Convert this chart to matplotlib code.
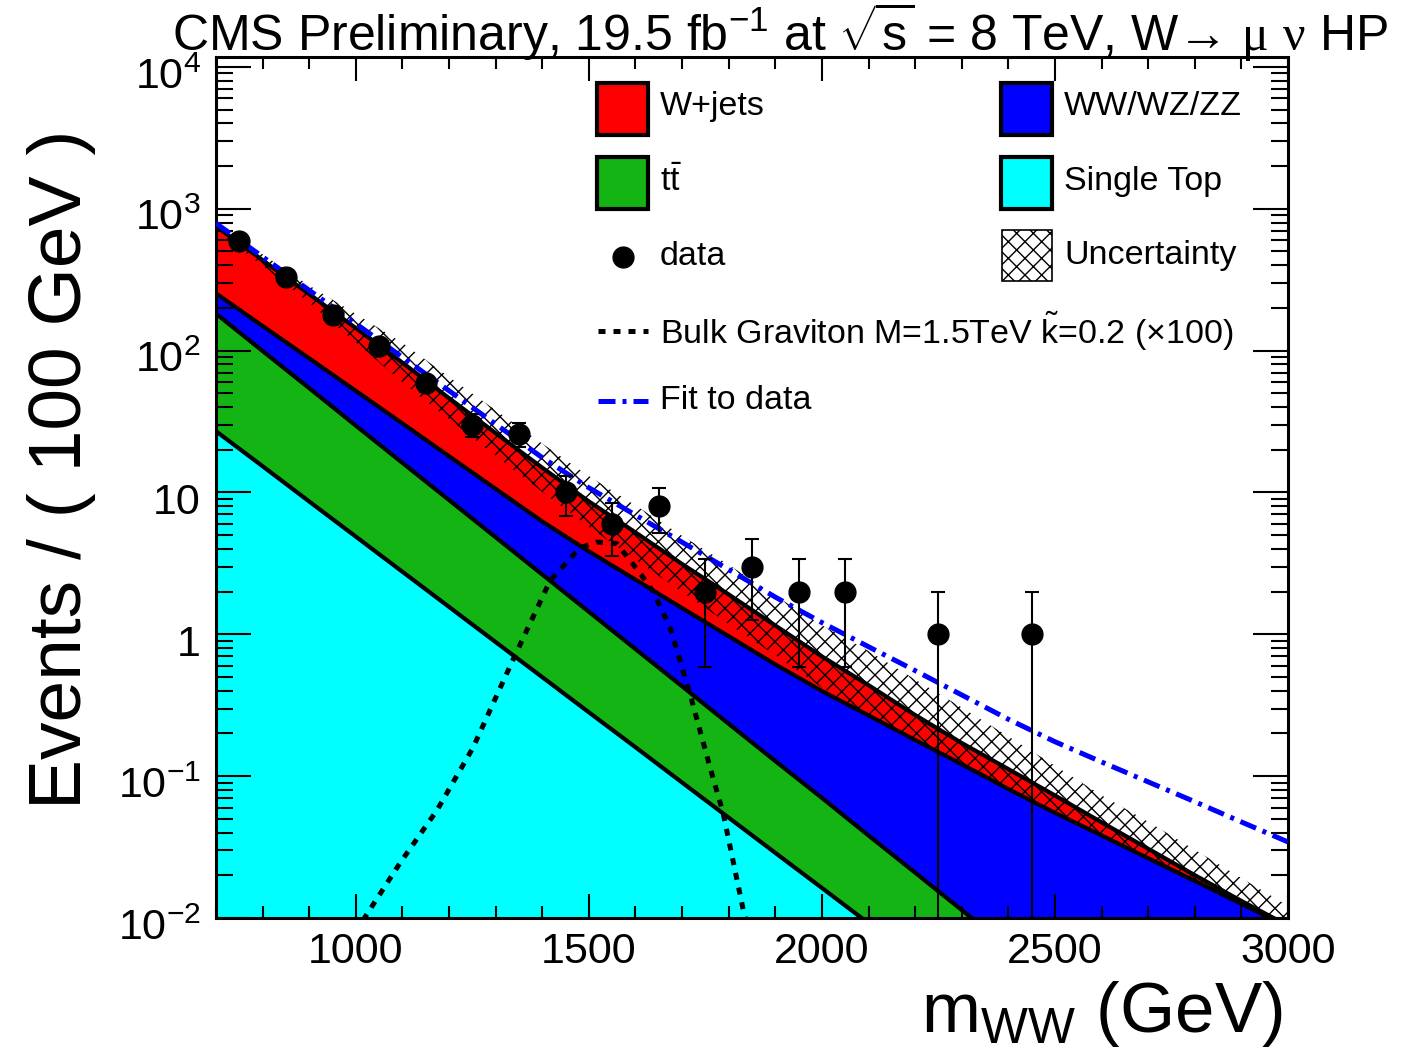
import numpy as np
import matplotlib
matplotlib.use('Agg')
import matplotlib.pyplot as plt
from matplotlib.patches import Rectangle
from matplotlib.lines import Line2D
from matplotlib.transforms import ScaledTranslation
from matplotlib.ticker import FixedLocator, MultipleLocator, LogLocator, NullFormatter

plt.rcParams['font.family'] = ['Liberation Sans', 'DejaVu Sans']
plt.rcParams['mathtext.fontset'] = 'custom'
plt.rcParams['mathtext.rm'] = 'Liberation Sans'
plt.rcParams['mathtext.it'] = 'Liberation Sans:italic'
plt.rcParams['mathtext.sf'] = 'Liberation Serif'

# background shapes, events / 100 GeV on a 100 GeV grid
mww_grid = np.arange(700, 3001, 100)
single_top = [27.0, 15.3, 8.63, 4.88, 2.76, 1.56, 0.881, 0.499, 0.282, 0.160, 0.0902, 0.0510,
              0.0288, 0.0163, 0.0092, 0.0052, 0.0030, 0.0017, 0.00095, 0.00054, 0.0003, 0.00017,
              0.0001, 0.00005]
ttbar = [155, 84, 45.7, 24.7, 13.4, 7.28, 3.95, 2.14, 1.16, 0.627, 0.340, 0.183,
         0.099, 0.054, 0.029, 0.0157, 0.0084, 0.0045, 0.0024, 0.0014, 0.0007, 0.0004,
         0.0002, 0.0001]
diboson = [71, 49.7, 33.8, 22.4, 14.5, 9.16, 5.77, 3.60, 2.40, 1.64, 1.10, 0.736,
           0.486, 0.328, 0.230, 0.159, 0.110, 0.075, 0.0518, 0.0363, 0.0254, 0.0177,
           0.0123, 0.0085]
wjets = [499, 285, 162, 92, 51.5, 28.2, 15.6, 8.7, 4.8, 2.8, 1.6, 0.94,
         0.54, 0.30, 0.17, 0.090, 0.050, 0.031, 0.018, 0.0091, 0.0044, 0.0018,
         0.0006, 0.0002]
# relative uncertainty on the total background
rel_unc = [0.07, 0.10, 0.15, 0.26, 0.38, 0.41, 0.45, 0.48, 0.51, 0.55, 0.58, 0.62,
           0.62, 0.66, 0.74, 0.78, 0.78, 0.70, 0.62, 0.55, 0.55, 0.51, 0.45, 0.38]
fit_curve = [789, 458, 266, 155, 89.7, 52.1, 30.3, 17.6, 10.8, 6.93, 4.46, 2.86,
             1.83, 1.21, 0.818, 0.555, 0.374, 0.252, 0.175, 0.126, 0.0912, 0.0661,
             0.0476, 0.0344]

# observed events
data_mass = [750, 850, 950, 1050, 1150, 1250, 1350, 1450, 1550, 1650, 1750, 1850,
             1950, 2050, 2250, 2450]
data_counts = [594, 331, 179, 108, 59, 30, 26, 10, 6, 8, 2, 3, 2, 2, 1, 1]

# bulk graviton signal (x100)
graviton_mass = [1000, 1020, 1095, 1174, 1251, 1337, 1417, 1481, 1517, 1560, 1610, 1638,
                 1674, 1717, 1760, 1788, 1831, 1840]
graviton_yield = [0.0078, 0.0102, 0.0245, 0.0575, 0.158, 0.66, 2.40, 4.07, 4.47, 4.37,
                  2.69, 2.00, 1.12, 0.380, 0.115, 0.055, 0.0115, 0.0088]

x_tick_values = [1000, 1500, 2000, 2500, 3000]
x_tick_labels = ['1000', '1500', '2000', '2500', '3000']
y_tick_values = [1e-2, 1e-1, 1, 10, 1e2, 1e3, 1e4]
y_tick_labels = ['$10^{-2}$', '$10^{-1}$', '1', '10', '$10^{2}$', '$10^{3}$', '$10^{4}$']

fig = plt.figure(figsize=(14.03, 10.51), dpi=100)
ax = fig.add_axes([0.154, 0.1265, 0.764, 0.8193])

# stacked backgrounds
stack = np.cumsum([single_top, ttbar, diboson, wjets], axis=0)
fill_colors = ['#00ffff', '#14b414', '#0000ff', '#ff0000']
lower = np.full(len(mww_grid), 1e-4)
for top, c in zip(stack, fill_colors):
    ax.fill_between(mww_grid, lower, top, facecolor=c, edgecolor='none', zorder=1)
    lower = top
for top in stack:
    ax.plot(mww_grid, top, color='black', lw=3, zorder=2)

# uncertainty band
total = stack[-1]
rel = np.array(rel_unc)
unc_hi = total * (1 + rel)
unc_lo = np.maximum(total / (1 + rel), stack[2])
ax.fill_between(mww_grid, unc_lo, unc_hi, facecolor='none', edgecolor='black',
                hatch='xx', linewidth=0, zorder=3)

ax.plot(graviton_mass, graviton_yield, color='black', lw=3.6, ls=(0, (1.4, 1.6)), zorder=4)
ax.plot(mww_grid, fit_curve, color='#0000ff', lw=3.6, ls=(0, (3.4, 1.4, 0.8, 1.4)), zorder=5)

counts = np.array(data_counts, dtype=float)
err = np.sqrt(counts)
err_lo = np.minimum(err, counts - 1e-4)
ax.errorbar(data_mass, counts, yerr=[err_lo, err], fmt='o', color='black', ms=15,
            elinewidth=1.5, capsize=5, capthick=1.5, zorder=6)

ax.set_xlim(700, 3000)
ax.set_yscale('log')
ax.set_ylim(1e-2, 10 ** 4.07)

ax.xaxis.set_major_locator(FixedLocator(x_tick_values))
ax.set_xticklabels(x_tick_labels)
ax.xaxis.set_minor_locator(MultipleLocator(100))
ax.yaxis.set_major_locator(FixedLocator(y_tick_values))
ax.set_yticklabels(y_tick_labels)
ax.yaxis.set_minor_locator(LogLocator(base=10, subs=range(2, 10), numticks=20))
ax.yaxis.set_minor_formatter(NullFormatter())

ax.tick_params(which='both', direction='in', top=True, right=True, width=1.5)
ax.tick_params(axis='y', which='major', length=25, labelsize=31, pad=11)
ax.tick_params(axis='y', which='minor', length=12)
ax.tick_params(axis='x', which='major', length=17, labelsize=31, pad=10)
ax.tick_params(axis='x', which='minor', length=8.5)
for s in ax.spines.values():
    s.set_linewidth(2.2)

# nudge y labels down a little
shift = ScaledTranslation(0, -6 / 100, fig.dpi_scale_trans)
for lab in ax.get_yticklabels():
    lab.set_transform(lab.get_transform() + shift)

# legend drawn by hand in axes coordinates
box_w, box_h = 0.0476, 0.0604
boxes = [(0.3554, 0.9094, '#ff0000'), (0.3554, 0.8235, '#14b414'),
         (0.7323, 0.9094, '#0000ff'), (0.7323, 0.8235, '#00ffff')]
for bx, by, c in boxes:
    ax.add_patch(Rectangle((bx, by), box_w, box_h, transform=ax.transAxes,
                           facecolor=c, edgecolor='black', lw=3, zorder=10))
ax.add_patch(Rectangle((0.7332, 0.7398), 0.0467, 0.0593, transform=ax.transAxes,
                       facecolor='white', edgecolor='black', hatch='xx', lw=1.2, zorder=10))
ax.plot([0.3797], [0.7677], 'o', color='black', ms=15, transform=ax.transAxes, zorder=10)
ax.add_line(Line2D([0.3564, 0.4030], [0.6818, 0.6818], transform=ax.transAxes,
                   color='black', lw=3.6, ls=(0, (1.4, 1.6)), zorder=10))
ax.add_line(Line2D([0.3564, 0.4030], [0.6005, 0.6005], transform=ax.transAxes,
                   color='#0000ff', lw=3.6, ls=(0, (3.4, 1.4, 0.8, 1.4)), zorder=10))

leg_fs = 24.5
ax.text(0.4142, 0.9419, 'W+jets', transform=ax.transAxes, fontsize=leg_fs, va='center')
ax.text(0.4142, 0.8548, r'$\mathregular{t\bar{t}}$', transform=ax.transAxes, fontsize=leg_fs, va='center')
ax.text(0.4142, 0.7677, 'data', transform=ax.transAxes, fontsize=leg_fs, va='center')
ax.text(0.4142, 0.6818, r'Bulk Graviton M=1.5TeV $\mathregular{\tilde{k}}$=0.2 (×100)',
        transform=ax.transAxes, fontsize=leg_fs, va='center')
ax.text(0.4142, 0.6005, 'Fit to data', transform=ax.transAxes, fontsize=leg_fs, va='center')
ax.text(0.7910, 0.9419, 'WW/WZ/ZZ', transform=ax.transAxes, fontsize=leg_fs, va='center')
ax.text(0.7910, 0.8548, 'Single Top', transform=ax.transAxes, fontsize=leg_fs, va='center')
ax.text(0.7910, 0.7700, 'Uncertainty', transform=ax.transAxes, fontsize=leg_fs, va='center')

fig.text(172 / 1403, 0.9524,
         r'CMS Preliminary, 19.5 fb$^{-1}$ at $\sqrt{\mathregular{s}}$ = 8 TeV, W→ $\mathsf{\mu}$ $\mathsf{\nu}$ HP',
         fontsize=36, va='baseline', ha='left')
fig.text(62 / 1403, 1 - 469 / 1051, 'Events / ( 100 GeV )', rotation=90,
         fontsize=54, ha='center', va='center')
fig.text(1283 / 1403, 0.0181, r'm$_{\mathregular{WW}}$ (GeV)', fontsize=51,
         ha='right', va='baseline')

fig.savefig('out.png', dpi=100)
